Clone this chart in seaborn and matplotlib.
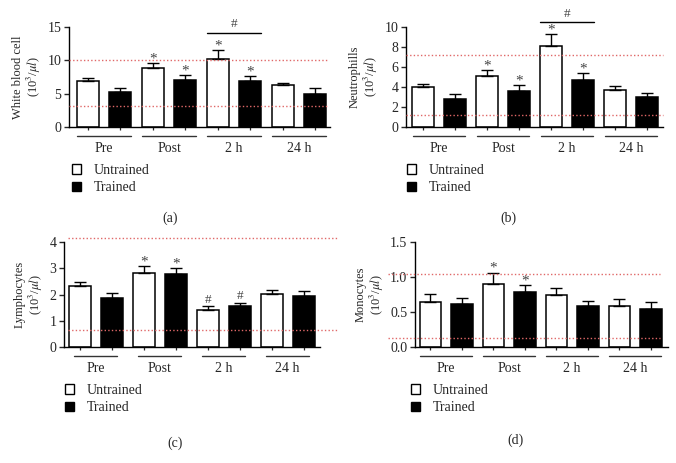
import pandas as pd
import matplotlib
matplotlib.use("Agg")
import matplotlib.pyplot as plt
from matplotlib.patches import Patch
import seaborn as sns

sns.set_theme(style="ticks")
plt.rcParams['font.family'] = ['Liberation Serif', 'DejaVu Serif']
plt.rcParams['mathtext.fontset'] = 'stix'

times = ["Pre", "Post", "2 h", "24 h"]
groups = ["Untrained", "Trained"]

# means and SEM, order Pre, Post, 2 h, 24 h
wbc_untrained = [6.95, 8.85, 10.2, 6.35]
wbc_untrained_sem = [0.35, 0.75, 1.3, 0.3]
wbc_trained = [5.3, 7.05, 6.9, 4.95]
wbc_trained_sem = [0.55, 0.75, 0.75, 0.85]

neu_untrained = [4.0, 5.07, 8.07, 3.73]
neu_untrained_sem = [0.3, 0.6, 1.23, 0.34]
neu_trained = [2.8, 3.6, 4.73, 2.97]
neu_trained_sem = [0.47, 0.6, 0.67, 0.43]

lym_untrained = [2.31, 2.81, 1.42, 2.01]
lym_untrained_sem = [0.18, 0.26, 0.13, 0.15]
lym_trained = [1.88, 2.77, 1.56, 1.96]
lym_trained_sem = [0.16, 0.23, 0.13, 0.16]

mon_untrained = [0.64, 0.90, 0.75, 0.58]
mon_untrained_sem = [0.12, 0.16, 0.10, 0.11]
mon_trained = [0.61, 0.79, 0.59, 0.55]
mon_trained_sem = [0.09, 0.09, 0.07, 0.09]

# significance marks above each bar
wbc_marks = (["", "*", "*", ""], ["", "*", "*", ""])
neu_marks = (["", "*", "*", ""], ["", "*", "*", ""])
lym_marks = (["", "*", "#", ""], ["", "*", "#", ""])
mon_marks = (["", "*", "", ""], ["", "*", "", ""])

# reference range lines
wbc_ref = [10.05, 3.2]
neu_ref = [7.2, 1.23]
lym_ref = [4.15, 0.66]
mon_ref = [1.05, 0.13]

palette = {"Untrained": "white", "Trained": "black"}
MARK_COLOR = "#444444"
RED = "#e06868"


def panel(ax, label, u, u_sem, t, t_sem, marks, ref, ref_span, yticks, yfmt,
          xlim, line_half, bracket=None):
    df = pd.DataFrame({
        "time": times * 2,
        "group": ["Untrained"] * 4 + ["Trained"] * 4,
        "value": u + t,
    })
    sns.barplot(data=df, x="time", y="value", hue="group", hue_order=groups,
                order=times, palette=palette, edgecolor="black", linewidth=1.1,
                width=1.0, gap=0.32, errorbar=None, legend=False, ax=ax, zorder=2)
    bars = list(ax.containers[:2])

    for cont, vals, sems, mk in zip(bars, [u, t], [u_sem, t_sem], marks):
        xs = [p.get_x() + p.get_width() / 2 for p in cont.patches]
        ax.errorbar(xs, vals, yerr=[[0] * len(sems), sems], fmt="none",
                    ecolor="black", elinewidth=1, capsize=4.5, capthick=1, zorder=3)
        for x, v, s, m in zip(xs, vals, sems, mk):
            if m:
                off = -1.5 if m == "*" else 0.5
                ax.annotate(m, (x, v + s), xytext=(0, off), textcoords="offset points",
                            ha="center", va="bottom", fontsize=11 if m == "*" else 9.5,
                            color=MARK_COLOR, annotation_clip=False)

    # dotted reference range, drawn over the bars
    for r in ref:
        ax.axhline(r, xmin=ref_span[0], xmax=ref_span[1], color=RED, lw=1,
                   ls=(0, (1, 1.6)), clip_on=False, zorder=4)

    if bracket is not None:
        b_u = bars[0].patches[2]
        b_t = bars[1].patches[2]
        x0 = b_u.get_x()
        x1 = b_t.get_x() + b_t.get_width()
        ax.plot([x0, x1], [bracket, bracket], color="black", lw=1, clip_on=False)
        ax.annotate("#", ((x0 + x1) / 2, bracket), xytext=(0, 2),
                    textcoords="offset points", ha="center", va="bottom",
                    fontsize=9.5, color=MARK_COLOR, annotation_clip=False)

    centers = [p.get_x() + p.get_width() / 2 for c in bars for p in c.patches]
    ax.set_xticks(range(len(times)))
    ax.set_xticklabels(times, fontsize=10)
    ax.set_xticks(sorted(centers), minor=True)
    ax.tick_params(axis="x", which="major", length=0, pad=11)
    ax.tick_params(axis="x", which="minor", length=2.5, width=0.9, direction="out")
    ax.set_xlim(*xlim)
    ax.set_xlabel("")

    tr = ax.get_xaxis_transform()
    for i in range(len(times)):
        ax.plot([i - line_half, i + line_half], [-0.09, -0.09], color="#333333",
                lw=1, transform=tr, clip_on=False)

    ax.set_ylim(yticks[0], yticks[-1])
    ax.set_yticks(yticks)
    ax.set_yticklabels([yfmt.format(v) for v in yticks], fontsize=10)
    ax.tick_params(axis="y", length=3.5, width=1, direction="out", pad=2)
    ax.set_ylabel(label + "\n" + r"(10$^{3}$/$\mu l$)", fontsize=9, linespacing=1.1,
                  labelpad=3)
    sns.despine(ax=ax)
    for s in ["left", "bottom"]:
        ax.spines[s].set_linewidth(1)
        ax.spines[s].set_color("black")


fig = plt.figure(figsize=(6.76, 4.63), dpi=100)

ax_a = fig.add_axes([69 / 676, 1 - 127 / 463, 261 / 676, 100 / 463])
ax_b = fig.add_axes([406 / 676, 1 - 127 / 463, 257 / 676, 100 / 463])
ax_c = fig.add_axes([64 / 676, 1 - 347 / 463, 256 / 676, 105 / 463])
ax_d = fig.add_axes([415 / 676, 1 - 347 / 463, 253 / 676, 105 / 463])

panel(ax_a, "White blood cell", wbc_untrained, wbc_untrained_sem, wbc_trained,
      wbc_trained_sem, wbc_marks, wbc_ref, (0, 0.99), [0, 5, 10, 15], "{:.0f}",
      (-0.54, 3.475), 0.41, bracket=14.1)
panel(ax_b, "Neutrophills", neu_untrained, neu_untrained_sem, neu_trained,
      neu_trained_sem, neu_marks, neu_ref, (0, 1.0), [0, 2, 4, 6, 8, 10], "{:.0f}",
      (-0.52, 3.5), 0.41, bracket=10.47)
panel(ax_c, "Lymphocytes", lym_untrained, lym_untrained_sem, lym_trained,
      lym_trained_sem, lym_marks, lym_ref, (0.016, 1.07), [0, 1, 2, 3, 4], "{:.0f}",
      (-0.495, 3.505), 0.34)
panel(ax_d, "Monocytes", mon_untrained, mon_untrained_sem, mon_trained,
      mon_trained_sem, mon_marks, mon_ref, (-0.105, 0.97), [0.0, 0.5, 1.0, 1.5], "{:.1f}",
      (-0.496, 3.52), 0.41)

handles = [Patch(facecolor=palette[g], edgecolor="black", linewidth=1) for g in groups]
legend_pos = [(72, 164), (407, 164), (65, 384), (411, 384)]
for lx, ly in legend_pos:
    fig.legend(handles, groups, loc="upper left", bbox_to_anchor=(lx / 676, 1 - ly / 463),
               frameon=False, fontsize=10, handlelength=0.65, handleheight=0.65,
               handletextpad=0.9, labelspacing=0.3, borderpad=0, borderaxespad=0)

captions = [("(a)", 170, 218), ("(b)", 508, 218), ("(c)", 175, 443), ("(d)", 515, 440)]
for txt, cx, cy in captions:
    fig.text(cx / 676, 1 - cy / 463, txt, ha="center", va="center", fontsize=10)

fig.savefig("out.png", dpi=100)
